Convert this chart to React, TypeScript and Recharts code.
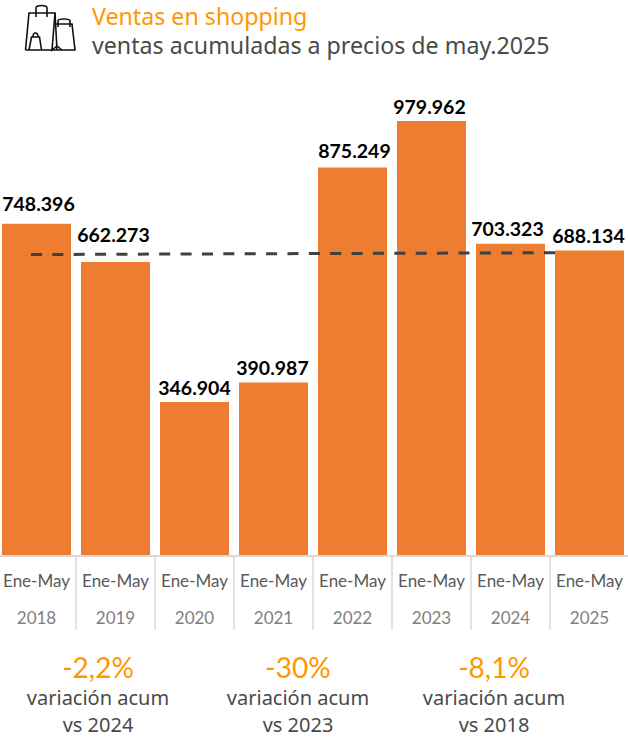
import React from 'react';
import { ComposedChart, Bar, Line, XAxis, YAxis, LabelList } from 'recharts';

const years = ['2018', '2019', '2020', '2021', '2022', '2023', '2024', '2025'];
const sales = [748396, 662273, 346904, 390987, 875249, 979962, 703323, 688134];
const salesLabels = ['748.396', '662.273', '346.904', '390.987', '875.249', '979.962', '703.323', '688.134'];
const period = 'Ene-May';
const guideX = [0.43, 7.063];
const guideY = [679000, 683000];
const variations = ['-2,2%', '-30%', '-8,1%'];
const variationRefs = ['vs 2024', 'vs 2023', 'vs 2018'];
const variationCenters = [98, 298, 494];

// hand placed nudges, the labels don't sit evenly on the bars
const labelLift = [6, 13, 0, 0, 2, 0, 1, 0];
const labelShift = [2, -2, 0, -1, 2, -2, -3, -1];

const data = years.map((year, i) => ({ year, sales: sales[i], label: salesLabels[i] }));
const guide = guideX.map((pos, i) => ({ pos, level: guideY[i] }));

const uiFont = '"Noto Sans", sans-serif';
const chartFont = 'Lato, sans-serif';

const YearTick = ({ x, y, payload }: any) => (
  <g fontFamily={chartFont} textAnchor="middle">
    <line x1={x + 39.5} x2={x + 39.5} y1={y - 8} y2={y + 66} stroke="#d9d9d9" strokeWidth={1.5} />
    <text x={x} y={y + 23} fontSize={17} fill="#595959">{period}</text>
    <text x={x} y={y + 60} fontSize={17} fill="#7f7f7f">{payload.value}</text>
  </g>
);

const BarValue = ({ x, y, width, value, index }: any) => (
  <text
    x={x + width / 2 + labelShift[index]}
    y={y - 7 - labelLift[index]}
    textAnchor="middle"
    fill="#000"
    fontSize={19.5}
    fontWeight={700}
    fontFamily={chartFont}
  >
    {value}
  </text>
);

const BagsIcon = () => (
  <svg width={54} height={50} style={{ position: 'absolute', left: 24, top: 4 }} fill="none" stroke="#111" strokeWidth={1.6}>
    <path d="M1.5 46 L5 9 H31 L33 46" />
    <path d="M32 20 H48 L51 46 H1.5" />
    <path d="M12 13 V4 Q12 1.5 17.5 1.5 Q23 1.5 23 4 V13" />
    <path d="M34 23 V17 Q34 15 40 15 Q46 15 46 17 V23" />
    <path d="M5 46 L7.5 33 H15.5 L17.5 46" />
    <path d="M9 33 Q9 29 11.5 29 Q14 29 14 33" />
    <path d="M31 9 L28 46 L33 42 L38 46" />
  </svg>
);

const App = () => (
  <div style={{ position: 'absolute', left: 0, top: 0, width: 628, height: 738, overflow: 'hidden', background: '#fff', fontFamily: uiFont }}>
    <BagsIcon />
    <div style={{ position: 'absolute', left: 92, top: 0, fontSize: 23.2, color: '#ff9800', whiteSpace: 'nowrap' }}>Ventas en shopping</div>
    <div style={{ position: 'absolute', left: 92, top: 29, fontSize: 23.2, color: '#4a4a4a', whiteSpace: 'nowrap' }}>ventas acumuladas a precios de may.2025</div>

    <div style={{ position: 'absolute', left: -4, top: 0 }}>
      <ComposedChart width={640} height={738} data={data} margin={{ top: 112, right: 7, bottom: 0, left: 1 }}>
        <XAxis
          dataKey="year"
          axisLine={{ stroke: '#d9d9d9', strokeWidth: 2 }}
          tickLine={false}
          height={182}
          interval={0}
          tick={<YearTick />}
        />
        <XAxis xAxisId="pos" dataKey="pos" type="number" domain={[0, 8]} hide />
        <YAxis hide domain={[0, 1000000]} />
        <Bar dataKey="sales" fill="#ed7d31" barSize={69} isAnimationActive={false}>
          <LabelList dataKey="label" content={<BarValue />} />
        </Bar>
        <Line
          xAxisId="pos"
          data={guide}
          dataKey="level"
          stroke="#404040"
          strokeWidth={3}
          strokeDasharray="11 10.375"
          dot={false}
          activeDot={false}
          isAnimationActive={false}
        />
      </ComposedChart>
    </div>

    {variations.map((v, i) => (
      <div key={v} style={{ position: 'absolute', left: variationCenters[i] - 100, top: 651, width: 200, textAlign: 'center', color: '#4a4a4a' }}>
        <div style={{ fontSize: 28, lineHeight: '32px', fontFamily: chartFont, color: '#ff9800' }}>{v}</div>
        <div style={{ fontSize: 20, lineHeight: '22px', marginTop: 4 }}>variación acum</div>
        <div style={{ fontSize: 20, lineHeight: '22px', marginTop: 5 }}>{variationRefs[i]}</div>
      </div>
    ))}
  </div>
);

export default App;
